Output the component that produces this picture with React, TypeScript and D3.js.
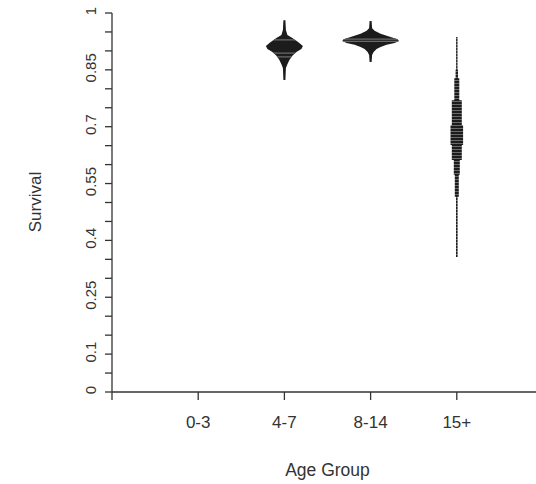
import React from "react";
import * as d3 from "d3";

// ---- data ----
const groups = ["0-3", "4-7", "8-14", "15+"];
const groupPos = [1, 2, 3, 4];

const yTickValues = d3.range(0, 21).map((i) => i / 20);
const yLabelValues = [0, 0.1, 0.25, 0.4, 0.55, 0.7, 0.85, 1];
const yLabelText = ["0", "0.1", "0.25", "0.4", "0.55", "0.7", "0.85", "1"];

// bean profiles: survival level and relative density (half width)
const surv47 = [0.981, 0.955, 0.942, 0.934, 0.923, 0.913, 0.905, 0.897, 0.887, 0.876, 0.865, 0.855, 0.823];
const dens47 = [1, 1.5, 3, 8, 14, 18.5, 17, 12, 8, 5, 3, 1.5, 1];
const lines47 = [0.929, 0.894, 0.884];

const surv814 = [0.979, 0.96, 0.953, 0.945, 0.937, 0.931, 0.926, 0.921, 0.916, 0.91, 0.905, 0.897, 0.889, 0.871];
const dens814 = [1, 1.5, 4, 10, 20, 27, 28.3, 24, 16, 10, 6, 3, 1.5, 1];
const lines814 = [0.931, 0.925];

const surv15 = [0.937, 0.85, 0.828, 0.77, 0.704, 0.652, 0.612, 0.573, 0.515, 0.356];
const dens15 = [0.7, 1.2, 2.5, 5, 6.3, 5, 3, 2, 0.8, 0.8];

// ---- layout ----
const W = 536;
const H = 484;
const FONT = "'Liberation Sans', Arial, sans-serif";
const INK = "#333";
const BEAN = "#1c1c1c";
const STRIPE = "#6a6a6a";

export default function App() {
  const x = d3.scaleLinear().domain([0, 5]).range([112, 543]);
  const y = d3.scaleLinear().domain([0, 1]).range([392, 13]);
  const w = d3.scaleLinear().domain([0, 28]).range([0, 28]);

  const beans = [
    { pos: groupPos[1], surv: surv47, dens: dens47, lines: lines47, curve: d3.curveLinear, pattern: false },
    { pos: groupPos[2], surv: surv814, dens: dens814, lines: lines814, curve: d3.curveLinear, pattern: false },
    { pos: groupPos[3], surv: surv15, dens: dens15, lines: [], curve: d3.curveStepBefore, pattern: true },
  ];

  const makeArea = (b: any) => {
    const pts = b.surv.map((s: number, j: number) => ({ s, d: b.dens[j] }));
    const cx = x(b.pos);
    const area = d3
      .area<{ s: number; d: number }>()
      .y((p) => y(p.s))
      .x0((p) => cx - w(p.d))
      .x1((p) => cx + w(p.d))
      .curve(b.curve);
    return area(pts) || "";
  };

  const xTicks = [0, 1, 2, 3, 4, 5];

  return (
    <svg
      width={W}
      height={H}
      style={{ position: "absolute", left: 0, top: 0, background: "#fff" }}
      fontFamily={FONT}
    >
      <defs>
        <pattern id="stripes" patternUnits="userSpaceOnUse" width={8} height={3}>
          <rect x={0} y={0} width={8} height={3} fill={BEAN} />
          <rect x={0} y={2} width={8} height={1} fill={STRIPE} />
        </pattern>
        {beans.map((b, i) => (
          <clipPath id={`clip${i}`} key={i}>
            <path d={makeArea(b)} />
          </clipPath>
        ))}
      </defs>

      {/* beans */}
      {beans.map((b, i) => {
        const cx = x(b.pos);
        return (
          <g key={i}>
            <path d={makeArea(b)} fill={b.pattern ? "url(#stripes)" : BEAN} />
            <g clipPath={`url(#clip${i})`}>
              {b.lines.map((v, k) => (
                <line key={k} x1={cx - 40} x2={cx + 40} y1={y(v)} y2={y(v)} stroke={STRIPE} strokeWidth={1.2} />
              ))}
            </g>
          </g>
        );
      })}

      {/* y axis */}
      <line x1={x(0)} x2={x(0)} y1={y(0)} y2={y(1)} stroke={INK} strokeWidth={1.3} />
      {yTickValues.map((v, i) => (
        <line key={i} x1={x(0) - 7} x2={x(0)} y1={y(v)} y2={y(v)} stroke={INK} strokeWidth={1.3} />
      ))}
      {yLabelValues.map((v, i) => (
        <text
          key={i}
          transform={`translate(96,${y(v) - 2}) rotate(-90)`}
          textAnchor="middle"
          fontSize={15}
          fill={INK}
        >
          {yLabelText[i]}
        </text>
      ))}
      <text transform={`translate(41,202) rotate(-90)`} textAnchor="middle" fontSize={17} fill={INK}>
        Survival
      </text>

      {/* x axis */}
      <line x1={x(0)} x2={x(5)} y1={y(0)} y2={y(0)} stroke={INK} strokeWidth={1.3} />
      {xTicks.map((t, i) => (
        <line key={i} x1={x(t)} x2={x(t)} y1={y(0)} y2={y(0) + 8} stroke={INK} strokeWidth={1.3} />
      ))}
      {groups.map((g, i) => (
        <text key={g} x={x(groupPos[i])} y={428} textAnchor="middle" fontSize={17} fill={INK}>
          {g}
        </text>
      ))}
      <text x={x(2.5)} y={476} textAnchor="middle" fontSize={17.5} fill={INK}>
        Age Group
      </text>
    </svg>
  );
}
